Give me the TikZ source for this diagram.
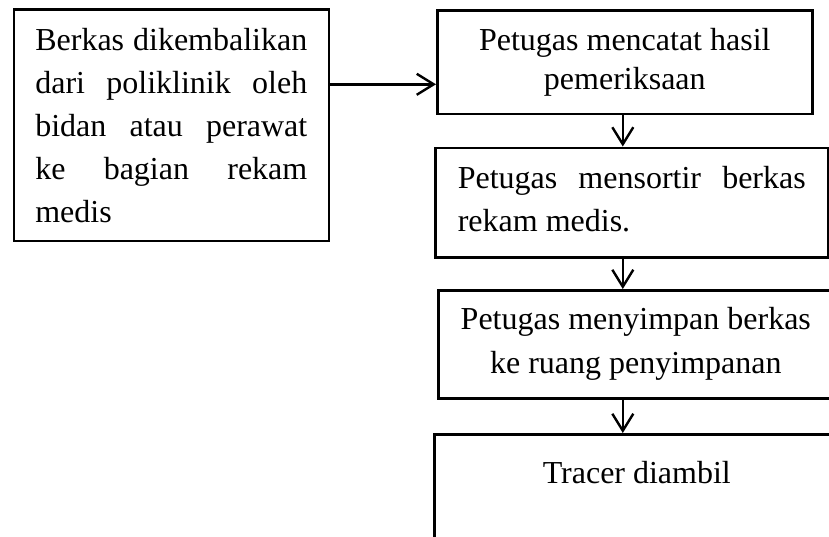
\documentclass[tikz,border=0pt]{standalone}
\usepackage{fontspec}
\setmainfont{Liberation Serif}
\usetikzlibrary{arrows.meta,calc}
\begin{document}
\begin{tikzpicture}[x=1pt,y=-1pt,
  box/.style={draw, line width=2.6pt, rectangle, anchor=north west, inner sep=0pt},
  arr/.style={line width=2.4pt, -{Straight Barb[length=17pt,width=21pt]}}]
\useasboundingbox (0,0) rectangle (829,536);
\clip (0,0) rectangle (829,536);
\node[box, minimum width=315pt, minimum height=231.5pt, align=left,
      font=\fontsize{32}{43}\selectfont] (A) at (12.5,8)
  {\makebox[272pt]{Berkas\hfill dikembalikan}\\
   \makebox[272pt]{dari\hfill poliklinik\hfill oleh}\\
   \makebox[272pt]{bidan\hfill atau\hfill perawat}\\
   \makebox[272pt]{ke\hfill bagian\hfill rekam}\\
   \makebox[272pt][l]{medis}};
\node[box, minimum width=375pt, minimum height=103.5pt, align=center,
      font=\fontsize{32}{39}\selectfont] (B) at (436,9)
  {Petugas mencatat hasil\\pemeriksaan};
\node[box, minimum width=393pt, minimum height=109.5pt, align=left,
      font=\fontsize{32}{43}\selectfont] (C) at (434,146.5)
  {\makebox[348pt]{Petugas\hfill mensortir\hfill berkas}\\
   \makebox[348pt][l]{rekam medis.\vphantom{g}}};
\node[box, minimum width=395pt, minimum height=108pt, align=center,
      font=\fontsize{32}{44}\selectfont] (D) at (437,289)
  {Petugas menyimpan berkas\\ke ruang penyimpanan};
\node[box, minimum width=405pt, inner ysep=27.1pt, text height=21.9pt, text depth=150pt,
      font=\fontsize{32}{43}\selectfont] (E) at (433,433)
  {Tracer diambil};
\coordinate (a1) at ([yshift=40.75pt]A.east);
\draw[arr] (a1) -- (a1 -| B.west);
\coordinate (b1) at ([xshift=-2pt]B.south);
\draw[arr] (b1) -- (b1 |- C.north);
\coordinate (c1) at (b1 |- C.south);
\draw[arr] (c1) -- (c1 |- D.north);
\coordinate (d1) at (b1 |- D.south);
\draw[arr] (d1) -- (d1 |- E.north);
\end{tikzpicture}
\end{document}
